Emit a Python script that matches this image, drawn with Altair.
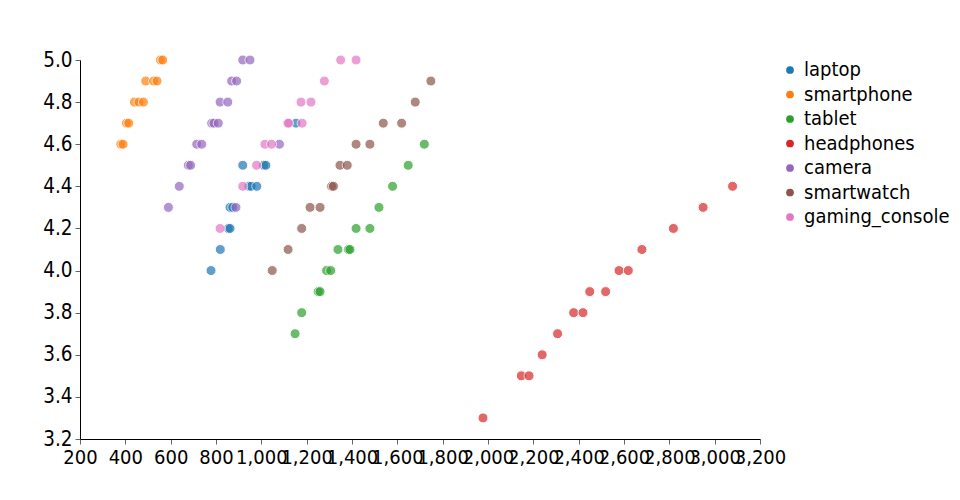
import altair as alt
import pandas as pd

categories = ["laptop", "smartphone", "tablet", "headphones", "camera", "smartwatch", "gaming_console"]

laptop_price = [1153, 918, 1010, 1020, 945, 955, 980, 862, 874, 854, 862, 819, 778]
laptop_rating = [4.7, 4.5, 4.5, 4.5, 4.4, 4.4, 4.4, 4.3, 4.3, 4.2, 4.2, 4.1, 4.0]

smartphone_price = [555, 565, 490, 525, 540, 440, 460, 480, 405, 415, 380, 390]
smartphone_rating = [5.0, 5.0, 4.9, 4.9, 4.9, 4.8, 4.8, 4.8, 4.7, 4.7, 4.6, 4.6]

tablet_price = [1719, 1648, 1579, 1519, 1418, 1479, 1338, 1384, 1391, 1288, 1306, 1251, 1259, 1178, 1149]
tablet_rating = [4.6, 4.5, 4.4, 4.3, 4.2, 4.2, 4.1, 4.1, 4.1, 4.0, 4.0, 3.9, 3.9, 3.8, 3.7]

headphones_price = [3079, 2949, 2818, 2679, 2578, 2619, 2449, 2519, 2378, 2419, 2307, 2239, 2147, 2181, 1978]
headphones_rating = [4.4, 4.3, 4.2, 4.1, 4.0, 4.0, 3.9, 3.9, 3.8, 3.8, 3.7, 3.6, 3.5, 3.5, 3.3]

camera_price = [918, 950, 869, 891, 818, 852, 781, 791, 810, 715, 737, 1080, 678, 688, 638, 590, 888]
camera_rating = [5.0, 5.0, 4.9, 4.9, 4.8, 4.8, 4.7, 4.7, 4.7, 4.6, 4.6, 4.6, 4.5, 4.5, 4.4, 4.3, 4.3]

smartwatch_price = [1748, 1679, 1538, 1619, 1418, 1479, 1347, 1379, 1310, 1318, 1215, 1259, 1178, 1118, 1048]
smartwatch_rating = [4.9, 4.8, 4.7, 4.7, 4.6, 4.6, 4.5, 4.5, 4.4, 4.4, 4.3, 4.3, 4.2, 4.1, 4.0]

gaming_console_price = [1350, 1418, 1278, 1175, 1219, 1116, 1120, 1180, 1016, 1045, 979, 918, 818]
gaming_console_rating = [5.0, 5.0, 4.9, 4.8, 4.8, 4.7, 4.7, 4.7, 4.6, 4.6, 4.5, 4.4, 4.2]

x_ticks = list(range(200, 3201, 200))
y_ticks = [3.2, 3.4, 3.6, 3.8, 4.0, 4.2, 4.4, 4.6, 4.8, 5.0]

series = {
    "laptop": (laptop_price, laptop_rating),
    "smartphone": (smartphone_price, smartphone_rating),
    "tablet": (tablet_price, tablet_rating),
    "headphones": (headphones_price, headphones_rating),
    "camera": (camera_price, camera_rating),
    "smartwatch": (smartwatch_price, smartwatch_rating),
    "gaming_console": (gaming_console_price, gaming_console_rating),
}

rows = []
for cat in categories:
    prices, ratings = series[cat]
    for p, r in zip(prices, ratings):
        rows.append({"category": cat, "price": p, "rating": r})
df = pd.DataFrame(rows)

FONT = "DejaVu Sans Condensed, DejaVu Sans, sans-serif"

chart = alt.Chart(df).mark_circle(
    size=100, opacity=0.7, stroke="white", strokeWidth=1
).encode(
    x=alt.X(
        "price:Q",
        scale=alt.Scale(domain=[200, 3200], nice=False, zero=False),
        axis=alt.Axis(
            title=None, values=x_ticks, format=",.0f", labelOverlap=False, labelFlush=False,
            grid=False, domainColor="#000", tickColor="#666", labelColor="#000",
            labelFontSize=20, labelFont=FONT, labelPadding=3,
        ),
    ),
    y=alt.Y(
        "rating:Q",
        scale=alt.Scale(domain=[3.2, 5.0], nice=False, zero=False),
        axis=alt.Axis(
            title=None, values=y_ticks, format=".1f", labelOverlap=False, labelFlush=False,
            grid=False, domainColor="#000", tickColor="#666", labelColor="#000",
            labelFontSize=20.5, labelFont=FONT, labelPadding=3,
        ),
    ),
    color=alt.Color(
        "category:N",
        scale=alt.Scale(domain=categories, scheme="category10"),
        sort=categories,
        legend=alt.Legend(
            title=None, labelFontSize=20, labelFont=FONT, labelColor="#000",
            symbolType="circle", symbolSize=60, symbolOpacity=1, symbolStrokeWidth=0,
            rowPadding=4.5, offset=20,
        ),
    ),
).properties(
    width=680,
    height=379,
    autosize=alt.AutoSizeParams(type="none"),
    padding={"left": 72, "top": 52, "right": 192, "bottom": 45},
).configure_view(stroke=None)

chart.save("out.html", embed_options={"renderer": "svg", "actions": False})
